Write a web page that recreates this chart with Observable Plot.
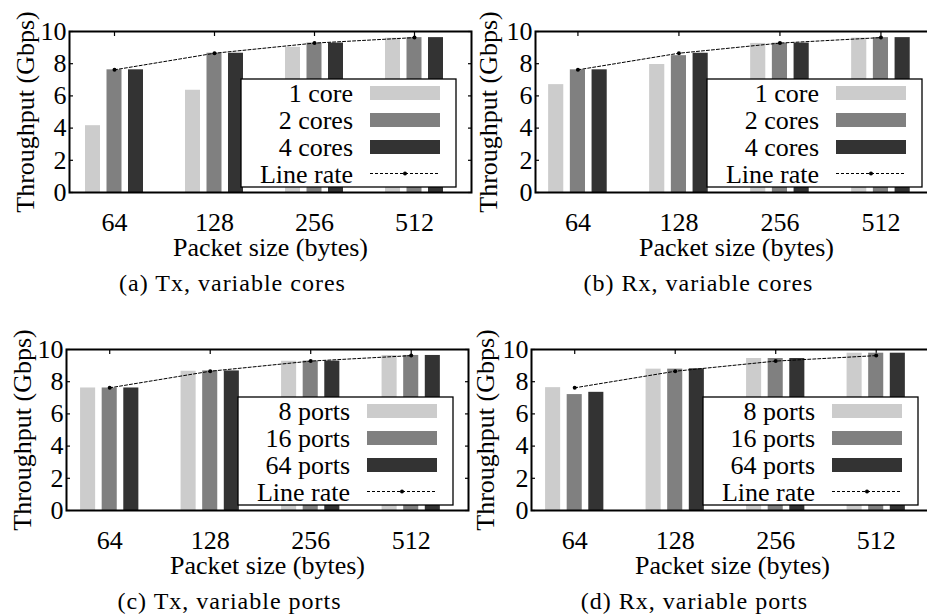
<!DOCTYPE html>
<html><head><meta charset="utf-8">
<script src="https://cdn.jsdelivr.net/npm/d3@7"></script>
<script src="https://cdn.jsdelivr.net/npm/@observablehq/plot@0.6"></script>
<style>
html,body{margin:0;padding:0;background:#fff;}
#root{position:relative;width:927px;height:614px;overflow:hidden;background:#fff;}
#root svg{position:absolute;}
</style></head><body><div id="root"></div>
<script>
// ---- data ----
const packetSizes = ["64", "128", "256", "512"];
const lineRate = [7.62, 8.65, 9.28, 9.62];
const yTicks = [0, 2, 4, 6, 8, 10];
const coreSeries = ["1 core", "2 cores", "4 cores"];
const portSeries = ["8 ports", "16 ports", "64 ports"];
// (a) Tx, variable cores
const txCore1 = [4.15, 6.35, 9.02, 9.58];
const txCore2 = [7.62, 8.65, 9.28, 9.62];
const txCore4 = [7.62, 8.65, 9.28, 9.62];
// (b) Rx, variable cores
const rxCore1 = [6.7, 7.95, 9.26, 9.59];
const rxCore2 = [7.62, 8.5, 9.27, 9.62];
const rxCore4 = [7.62, 8.65, 9.28, 9.62];
// (c) Tx, variable ports
const txPort8 = [7.61, 8.65, 9.27, 9.63];
const txPort16 = [7.61, 8.67, 9.28, 9.63];
const txPort64 = [7.61, 8.67, 9.28, 9.63];
// (d) Rx, variable ports
const rxPort8 = [7.63, 8.78, 9.44, 9.77];
const rxPort16 = [7.2, 8.78, 9.44, 9.77];
const rxPort64 = [7.34, 8.8, 9.44, 9.77];
const seriesColors = ["#cccccc", "#808080", "#333333"];

const FONT = "'Liberation Serif', 'Times New Roman', serif";
const root = document.getElementById("root");

function panel({left, top, marginLeft, xDomain, series, values, caption, titleDx}) {
  const offsets = [-0.215, 0, 0.215];
  const hw = 0.075;
  const rows = [];
  values.forEach((vals, s) => vals.forEach((v, i) => rows.push({i, s, v})));
  const lr = lineRate.map((v, i) => ({i, v}));
  const idx = packetSizes.map((_, i) => i);
  const frameW = 402;
  const width = marginLeft + frameW + 8;
  const plot = Plot.plot({
    width, height: 300,
    marginLeft, marginRight: 8, marginTop: 31, marginBottom: 108,
    style: {fontFamily: FONT, background: "transparent", overflow: "visible", maxWidth: "none", color: "#000"},
    x: {type: "linear", domain: xDomain},
    y: {domain: [0, 10]},
    marks: [
      Plot.axisY(yTicks, {anchor: "left", tickSize: 4, dx: 4, tickFormat: () => "", label: null, strokeWidth: 1.2}),
      Plot.axisY(yTicks, {anchor: "right", tickSize: 4, dx: -4, tickFormat: () => "", label: null, strokeWidth: 1.2}),
      Plot.axisX(idx, {anchor: "bottom", tickSize: 4, dy: -4, tickFormat: () => "", label: null, strokeWidth: 1.2}),
      Plot.axisX(idx, {anchor: "top", tickSize: 4, dy: 4, tickFormat: () => "", label: null, strokeWidth: 1.2}),
      Plot.rectY(rows, {
        x1: d => d.i + offsets[d.s] - hw,
        x2: d => d.i + offsets[d.s] + hw,
        y1: 0, y2: "v",
        fill: d => seriesColors[d.s]
      }),
      Plot.line(lr, {x: "i", y: "v", stroke: "#000", strokeWidth: 1, strokeDasharray: "3,2"}),
      Plot.dot(lr, {x: "i", y: "v", r: 2, fill: "#000"}),
      Plot.frame({stroke: "#000", strokeWidth: 2}),
      Plot.axisY(yTicks, {anchor: "left", tickSize: 0, tickPadding: 3, fontSize: 26, label: null}),
      Plot.axisX(idx, {anchor: "bottom", tickSize: 0, tickPadding: 20, fontSize: 26, tickFormat: i => packetSizes[i], label: null}),
      Plot.text(["Throughput (Gbps)"], {text: d => d, frameAnchor: "left", textAnchor: "middle", lineAnchor: "middle", rotate: -90, dx: titleDx, fontSize: 26}),
      Plot.text(["Packet size (bytes)"], {text: d => d, frameAnchor: "bottom", textAnchor: "middle", lineAnchor: "middle", dy: 55, fontSize: 26}),
      Plot.text([caption], {text: d => d, frameAnchor: "bottom", textAnchor: "middle", lineAnchor: "middle", dx: -38, dy: 91, fontSize: 24})
    ]
  });
  plot.style.left = left + "px";
  plot.style.top = top + "px";
  const svg = d3.select(plot);
  svg.selectAll("text").filter(function() { return this.textContent === caption; })
    .attr("letter-spacing", "1px");
  // legend (inside the frame, top-right region)
  const xr = plot.scale("x").range, yr = plot.scale("y").range;
  const fr = Math.max(...xr), fb = Math.max(...yr);
  const bw = 215, bh = 108;
  const x0 = fr - 15 - bw, y0 = fb - 5 - bh;
  const g = svg.append("g").attr("font-family", FONT).attr("font-size", 26);
  g.append("rect").attr("x", x0).attr("y", y0).attr("width", bw).attr("height", bh)
    .attr("fill", "#fff").attr("stroke", "#000").attr("stroke-width", 1.3);
  const rowY = [14, 41, 68, 94.5];
  [...series, "Line rate"].forEach((t, k) => {
    g.append("text").attr("x", x0 + 112).attr("y", y0 + rowY[k]).attr("dy", "0.35em")
      .attr("text-anchor", "end").attr("fill", "#000").text(t);
    if (k < 3) {
      g.append("rect").attr("x", x0 + 129).attr("y", y0 + rowY[k] - 7)
        .attr("width", 70).attr("height", 14).attr("fill", seriesColors[k]);
    } else {
      g.append("line").attr("x1", x0 + 129).attr("x2", x0 + 199)
        .attr("y1", y0 + rowY[k]).attr("y2", y0 + rowY[k])
        .attr("stroke", "#000").attr("stroke-width", 1).attr("stroke-dasharray", "3,2");
      g.append("circle").attr("cx", x0 + 164).attr("cy", y0 + rowY[k]).attr("r", 2).attr("fill", "#000");
    }
  });
  root.appendChild(plot);
}

panel({left: 0, top: 0, marginLeft: 69, xDomain: [-0.45, 3.57], series: coreSeries,
  values: [txCore1, txCore2, txCore4], caption: "(a) Tx, variable cores", titleDx: -44});
panel({left: 474, top: 0, marginLeft: 61, xDomain: [-0.42, 3.56], series: coreSeries,
  values: [rxCore1, rxCore2, rxCore4], caption: "(b) Rx, variable cores", titleDx: -47});
panel({left: 0, top: 318, marginLeft: 66, xDomain: [-0.43, 3.57], series: portSeries,
  values: [txPort8, txPort16, txPort64], caption: "(c) Tx, variable ports", titleDx: -44});
panel({left: 474, top: 318, marginLeft: 57, xDomain: [-0.43, 3.57], series: portSeries,
  values: [rxPort8, rxPort16, rxPort64], caption: "(d) Rx, variable ports", titleDx: -46});
</script></body></html>
